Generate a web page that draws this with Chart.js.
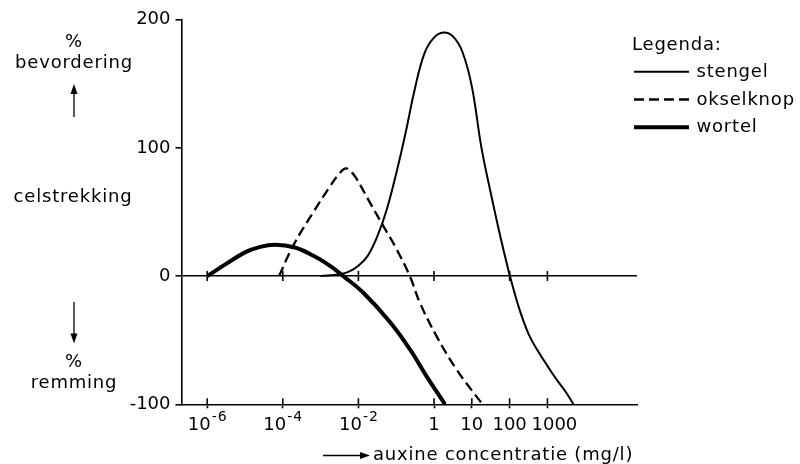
<!DOCTYPE html>
<html>
<head>
<meta charset="utf-8">
<script src="https://cdn.jsdelivr.net/npm/chart.js@4"></script>
<style>
  html, body { margin: 0; padding: 0; background: #fff; }
  #wrap { width: 800px; height: 464px; position: relative; }
</style>
</head>
<body>
<div id="wrap"><canvas id="ChartCanvas"></canvas></div>
<script>
// x values are log10 of the auxine concentration (mg/l)
const stengelX = [-3.0, -2.5, -2.25, -2.0, -1.75, -1.5, -1.25, -1.0, -0.75, -0.5, -0.25, 0.0, 0.25, 0.5, 0.75, 1.0, 1.25, 1.5, 1.75, 2.0, 2.25, 2.5, 2.75, 3.0, 3.25, 3.5, 3.69];
const stengelY = [0, 1.5, 3.5, 8, 16, 31, 52, 80, 112, 147, 174, 186, 190, 187, 175, 148, 101, 65, 31.5, 1, -25, -45, -58.5, -70, -81, -91, -100];

const okselX = [-4.1, -3.72, -3.19, -2.75, -2.53, -2.34, -2.18, -2.05, -1.65, -1.34, -0.99, -0.64, -0.37, 0.07, 0.6, 1.28];
const okselY = [0, 24, 50, 70, 79, 84, 81, 76, 55, 39, 21, 0, -21, -47, -73, -100];

const wortelX = [-6.0, -5.5, -5.0, -4.6, -4.2, -3.7, -3.2, -2.75, -2.4, -1.87, -1.16, -0.64, -0.2, 0.29];
const wortelY = [0, 9.5, 18.5, 22.8, 24.5, 22.5, 16, 8, 0, -13, -36, -57, -78, -100];

// tick values (log10) with base and exponent of their labels
const xTickValues = [-6, -4, -2, 0, 1, 2, 3];
const xTickBase = ['10', '10', '10', '1', '10', '100', '1000'];
const xTickExp = ['-6', '-4', '-2', '', '', '', ''];
const zeroTickValues = [-6, -4, -2, 0, 2, 3];

const seriesNames = ['stengel', 'okselknop', 'wortel'];

Initialize();

function toPoints(xs, ys)
{
    return xs.map((v, i) => ({ x: v, y: ys[i] }));
}

function Initialize()
{
    Chart.defaults.font.family = '"DejaVu Sans", sans-serif';
    Chart.defaults.font.size = 18;
    Chart.defaults.color = '#000';

    // arrows, side texts, tick labels, extra tick marks and legend
    const decor = {
        id: 'decor',
        afterDraw(chart) {
            const ctx = chart.ctx;
            const a = chart.chartArea;
            const xs = chart.scales.x;
            const ys = chart.scales.y;
            ctx.save();
            ctx.strokeStyle = '#000';
            ctx.fillStyle = '#000';
            ctx.lineWidth = 1.6;

            // tick marks above the bottom axis and across the zero line
            const y0 = ys.getPixelForValue(0);
            ctx.beginPath();
            xTickValues.forEach(v => {
                const px = xs.getPixelForValue(v);
                ctx.moveTo(px, a.bottom - 6);
                ctx.lineTo(px, a.bottom);
            });
            zeroTickValues.forEach(v => {
                const px = xs.getPixelForValue(v);
                ctx.moveTo(px, y0 - 5);
                ctx.lineTo(px, y0 + 5);
            });
            ctx.stroke();

            // x tick labels with superscript exponents
            ctx.textBaseline = 'alphabetic';
            ctx.textAlign = 'left';
            xTickValues.forEach((v, i) => {
                const px = xs.getPixelForValue(v);
                ctx.font = '18px "DejaVu Sans", sans-serif';
                ctx.letterSpacing = '0px';
                const wb = ctx.measureText(xTickBase[i]).width;
                ctx.font = '14px "DejaVu Sans", sans-serif';
                ctx.letterSpacing = '1px';
                const we = xTickExp[i] ? ctx.measureText(xTickExp[i]).width : 0;
                // the last label is pushed right a little, as in the original
                const nudge = (i === xTickValues.length - 1) ? 7 : 0;
                const left = px - (wb + we) / 2 + nudge;
                ctx.font = '18px "DejaVu Sans", sans-serif';
                ctx.letterSpacing = '0px';
                ctx.fillText(xTickBase[i], left, a.bottom + 26);
                if (xTickExp[i]) {
                    ctx.font = '14px "DejaVu Sans", sans-serif';
                    ctx.letterSpacing = '1px';
                    ctx.fillText(xTickExp[i], left + wb + 1, a.bottom + 17);
                }
            });

            function arrow(x1, y1, x2, y2)
            {
                const ang = Math.atan2(y2 - y1, x2 - x1);
                const len = 10, half = 3.5;
                ctx.lineWidth = 1.3;
                ctx.beginPath();
                ctx.moveTo(x1, y1);
                ctx.lineTo(x2 - Math.cos(ang) * len * 0.8, y2 - Math.sin(ang) * len * 0.8);
                ctx.stroke();
                ctx.beginPath();
                ctx.moveTo(x2, y2);
                ctx.lineTo(x2 - Math.cos(ang) * len - Math.sin(ang) * half, y2 - Math.sin(ang) * len + Math.cos(ang) * half);
                ctx.lineTo(x2 - Math.cos(ang) * len + Math.sin(ang) * half, y2 - Math.sin(ang) * len - Math.cos(ang) * half);
                ctx.closePath();
                ctx.fill();
            }

            ctx.font = '18px "DejaVu Sans", sans-serif';
            ctx.letterSpacing = '0.8px';

            // y axis side texts
            ctx.textAlign = 'center';
            ctx.fillText('%', 74, 46.7);
            ctx.fillText('bevordering', 74, 67.7);
            arrow(74, 117, 74, 84);
            ctx.fillText('celstrekking', 73, 201.7);
            arrow(74, 302, 74, 343.5);
            ctx.fillText('%', 74, 366.7);
            ctx.fillText('remming', 74, 388.3);

            // x axis title
            ctx.textAlign = 'left';
            arrow(323, 455.5, 370, 455.5);
            ctx.fillText('auxine concentratie (mg/l)', 373, 459.5);

            // legend
            ctx.fillText('Legenda:', 632, 50);
            chart.data.datasets.forEach((ds, i) => {
                const ly = 71.7 + i * 27.8;
                ctx.save();
                ctx.lineWidth = ds.borderWidth;
                ctx.setLineDash(ds.borderDash || []);
                ctx.beginPath();
                ctx.moveTo(634, ly);
                ctx.lineTo(689, ly);
                ctx.stroke();
                ctx.restore();
                ctx.fillText(ds.label, 696.5, ly + 5);
            });
            ctx.restore();
        }
    };

    const ctx = document.getElementById('ChartCanvas').getContext('2d');
    new Chart(ctx, {
        type: 'line',
        data: {
            datasets: [
                {
                    label: seriesNames[0],
                    data: toPoints(stengelX, stengelY),
                    borderColor: '#000',
                    borderWidth: 2,
                    pointRadius: 0,
                    tension: 0.4
                },
                {
                    label: seriesNames[1],
                    data: toPoints(okselX, okselY),
                    borderColor: '#000',
                    borderWidth: 2.3,
                    borderDash: [10, 5],
                    pointRadius: 0,
                    tension: 0.4
                },
                {
                    label: seriesNames[2],
                    data: toPoints(wortelX, wortelY),
                    borderColor: '#000',
                    borderWidth: 4,
                    pointRadius: 0,
                    tension: 0.4
                }
            ]
        },
        options: {
            responsive: true,
            maintainAspectRatio: false,
            animation: false,
            devicePixelRatio: 1,
            layout: { padding: { top: 19.7, right: 163, left: 0, bottom: 0 } },
            plugins: {
                legend: { display: false },
                tooltip: { enabled: false }
            },
            scales: {
                x: {
                    type: 'linear',
                    min: -6.68,
                    max: 5.37,
                    afterBuildTicks: scale => {
                        scale.ticks = xTickValues.map(v => ({ value: v }));
                    },
                    afterFit: scale => { scale.height = 59.7; },
                    ticks: {
                        display: false,
                        autoSkip: false
                    },
                    grid: {
                        drawOnChartArea: false,
                        drawTicks: true,
                        tickLength: 4,
                        tickColor: '#000',
                        tickWidth: 1.6
                    },
                    border: { display: true, color: '#000', width: 1.6 }
                },
                y: {
                    min: -100,
                    max: 200,
                    afterFit: scale => { scale.width = 181.5; },
                    ticks: {
                        stepSize: 100,
                        padding: 5
                    },
                    grid: {
                        color: c => (c.tick && c.tick.value === 0) ? '#000' : 'rgba(0,0,0,0)',
                        lineWidth: 1.6,
                        tickColor: '#000',
                        tickWidth: 1.6,
                        tickLength: 6
                    },
                    border: { display: true, color: '#000', width: 1.6 }
                }
            }
        },
        plugins: [decor]
    });
}
</script>
</body>
</html>
